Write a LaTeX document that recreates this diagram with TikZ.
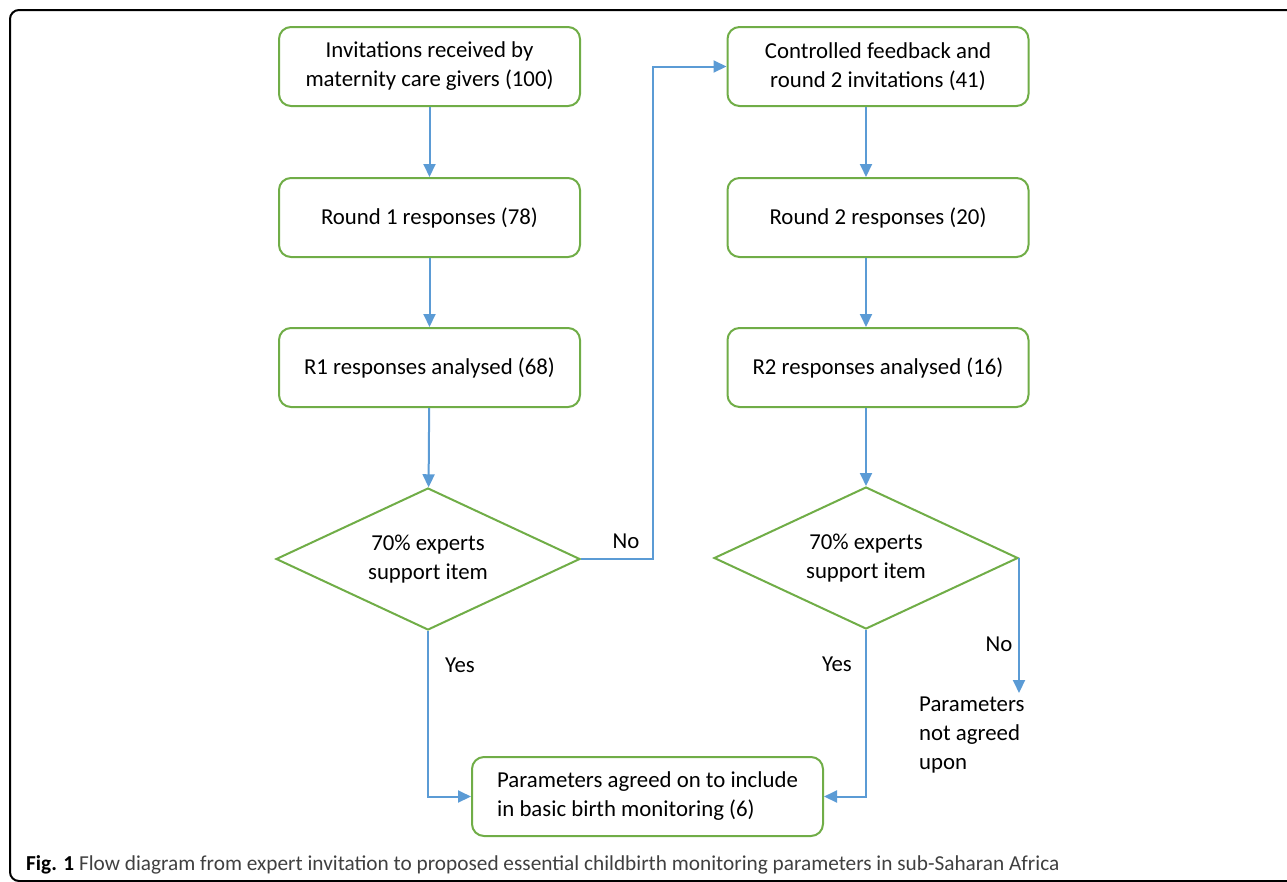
\documentclass[tikz,border=0pt]{standalone}
\usepackage{fontspec}
\setmainfont{Carlito}
\usepackage{tikz}
\usetikzlibrary{shapes.geometric,arrows.meta}

\definecolor{boxgreen}{HTML}{70AD47}
\definecolor{flowblue}{HTML}{5B9BD5}
\definecolor{capgray}{HTML}{404040}

\tikzset{
  stepbox/.style={draw=boxgreen,line width=2pt,rounded corners=12pt,
    minimum width=301pt,minimum height=79pt,align=center,
    font=\fontsize{22.8}{29}\selectfont},
  decision/.style={draw=boxgreen,line width=2pt,diamond,aspect=2.14,
    inner sep=0pt,minimum width=304pt,minimum height=142pt,align=center,
    font=\fontsize{22.8}{29}\selectfont},
  flow/.style={draw=flowblue,line width=2pt,-{Triangle[length=13pt,width=12pt]}},
  answer/.style={font=\fontsize{22.8}{29}\selectfont,inner sep=0pt},
}

\begin{document}
\begin{tikzpicture}[x=1pt,y=-1pt]
  \useasboundingbox (0,0) rectangle (1287,881);
  \clip (0,0) rectangle (1287,881);

  % frame
  \draw[line width=2pt,rounded corners=9pt] (10,10) rectangle (1340,881);

  % round 1 column
  \node[stepbox] (invite) at (429.5,66.5) {Invitations received by\\maternity care givers (100)};
  \node[stepbox] (resp1) at (429.5,217.5) {Round 1 responses (78)};
  \node[stepbox] (anal1) at (429.5,367.5) {R1 responses analysed (68)};
  \node[decision] (dec1) at (428,559) {70\% experts\\support item};

  % round 2 column
  \node[stepbox] (feedback) at (878,66.5) {Controlled feedback and\\round 2 invitations (41)};
  \node[stepbox] (resp2) at (878,217.5) {Round 2 responses (20)};
  \node[stepbox] (anal2) at (878,367.5) {R2 responses analysed (16)};
  \node[decision] (dec2) at (866,558) {70\% experts\\support item};

  % outcomes
  \node[stepbox,minimum width=351pt,align=left] (agreed) at (647.5,796.5)
    {Parameters agreed on to include\\in basic birth monitoring (6)};
  \node[answer,align=left,anchor=north west] (notagreed) at (919,697)
    {Parameters\\not agreed\\upon};

  \coordinate (nobend) at (653,0);

  % connectors
  \draw[flow] (invite) -- (resp1);
  \draw[flow] (resp1) -- (anal1);
  \draw[flow] (anal1) -- (dec1);
  \draw[flow] (dec1.east) -- (dec1.east -| nobend) |- (feedback.west);
  \draw[flow] (feedback.south -| dec2.north) -- (resp2.north -| dec2.north);
  \draw[flow] (resp2.south -| dec2.north) -- (anal2.north -| dec2.north);
  \draw[flow] (anal2.south -| dec2.north) -- (dec2.north);
  \draw[flow] (dec2.east) -- ([yshift=4pt]dec2.east |- notagreed.north);
  \draw[flow] (dec1.south) |- (agreed.west);
  \draw[flow] (dec2.south) |- (agreed.east);

  % answers
  \node[answer] (no1) at (626,541) {No};
  \node[answer] (yes1) at (460,665) {Yes};
  \node[answer] (yes2) at (837,664) {Yes};
  \node[answer] (no2) at (999,644) {No};

  % caption
  \node[anchor=base west,inner sep=0pt,font=\fontsize{21.3}{25}\selectfont,text=capgray] (caption) at (26,870)
    {\textbf{\color{black}Fig. 1} Flow diagram from expert invitation to proposed essential childbirth monitoring parameters in sub-Saharan Africa};
\end{tikzpicture}
\end{document}
